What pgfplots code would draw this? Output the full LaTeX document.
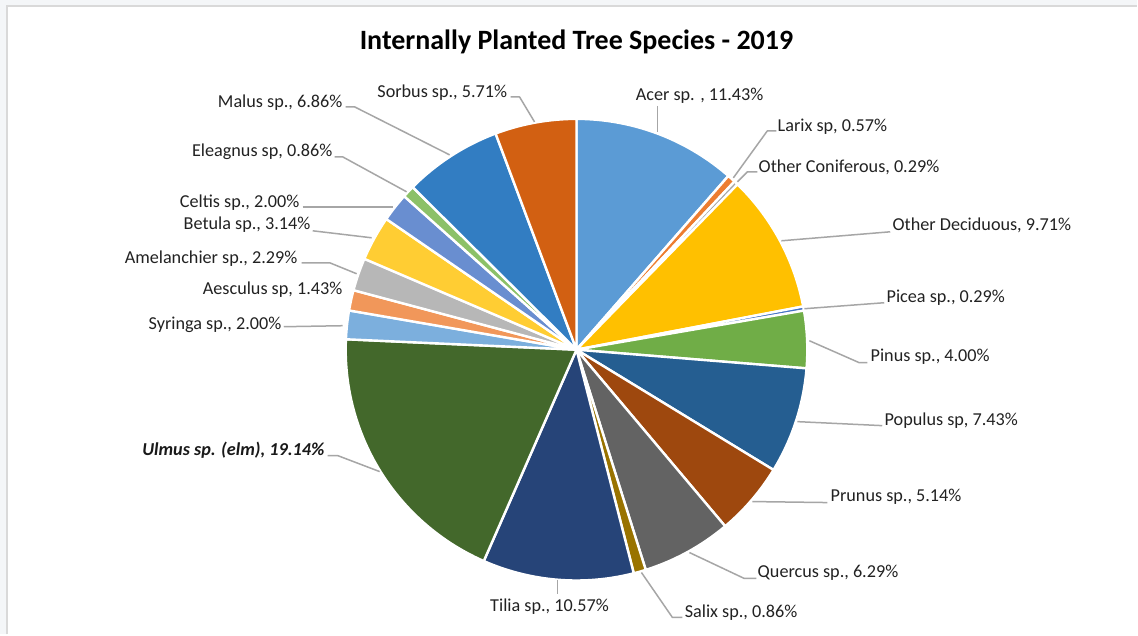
\documentclass[border=0pt]{standalone}
\usepackage{pgfplots}
\pgfplotsset{compat=1.18}
\usepackage{fontspec}
\setmainfont{Carlito}
\definecolor{cAcer}{HTML}{5B9BD5}
\definecolor{cLarix}{HTML}{ED7D31}
\definecolor{cOCon}{HTML}{A5A5A5}
\definecolor{cODec}{HTML}{FFC000}
\definecolor{cPicea}{HTML}{4472C4}
\definecolor{cPinus}{HTML}{70AD47}
\definecolor{cPopulus}{HTML}{255E91}
\definecolor{cPrunus}{HTML}{9E480E}
\definecolor{cQuercus}{HTML}{636363}
\definecolor{cSalix}{HTML}{997300}
\definecolor{cTilia}{HTML}{264478}
\definecolor{cUlmus}{HTML}{43682B}
\definecolor{cSyringa}{HTML}{7CAFDD}
\definecolor{cAesculus}{HTML}{F1975A}
\definecolor{cAmel}{HTML}{B7B7B7}
\definecolor{cBetula}{HTML}{FFCD33}
\definecolor{cCeltis}{HTML}{698ED0}
\definecolor{cEleag}{HTML}{8CC168}
\definecolor{cMalus}{HTML}{327DC2}
\definecolor{cSorbus}{HTML}{D26012}
\definecolor{lead}{HTML}{A6A6A6}
\definecolor{txt}{HTML}{222222}
\definecolor{frame}{HTML}{D9D9D9}
\definecolor{outside}{HTML}{F4F6F8}
\tikzset{lab/.style={font=\fontsize{9.1}{10}\selectfont, text=txt, inner sep=0pt}}
\begin{document}
\begin{tikzpicture}
\begin{axis}[
  x=0.5pt, y=0.5pt,
  xmin=0, xmax=1138, ymin=0, ymax=635,
  y dir=reverse,
  hide axis, clip=false,
  every axis plot/.append style={line join=round},
  slice/.style={fill=#1, draw=white, line width=1.2pt, samples=60, variable=\t, no marks},
  leader/.style={draw=lead, line width=0.75pt, no marks},
]
\fill[outside] (axis cs:0,0) rectangle (axis cs:1138,635);
\fill[white] (axis cs:7,6) rectangle (axis cs:1138,635);
\draw[frame, line width=1pt] (axis cs:7,635) -- (axis cs:7,6) -- (axis cs:1138,6);

% pie slices: domain in cumulative percent, clockwise from top
\addplot[slice=cAcer, domain=0:11.43]      ({577+231*sin(3.6*\t)},{350-231*cos(3.6*\t)}) -- (axis cs:577,350) -- cycle;
\addplot[slice=cLarix, domain=11.43:12.00] ({577+231*sin(3.6*\t)},{350-231*cos(3.6*\t)}) -- (axis cs:577,350) -- cycle;
\addplot[slice=cOCon, domain=12.00:12.29]  ({577+231*sin(3.6*\t)},{350-231*cos(3.6*\t)}) -- (axis cs:577,350) -- cycle;
\addplot[slice=cODec, domain=12.29:22.00]  ({577+231*sin(3.6*\t)},{350-231*cos(3.6*\t)}) -- (axis cs:577,350) -- cycle;
\addplot[slice=cPicea, domain=22.00:22.29] ({577+231*sin(3.6*\t)},{350-231*cos(3.6*\t)}) -- (axis cs:577,350) -- cycle;
\addplot[slice=cPinus, domain=22.29:26.29] ({577+231*sin(3.6*\t)},{350-231*cos(3.6*\t)}) -- (axis cs:577,350) -- cycle;
\addplot[slice=cPopulus, domain=26.29:33.72] ({577+231*sin(3.6*\t)},{350-231*cos(3.6*\t)}) -- (axis cs:577,350) -- cycle;
\addplot[slice=cPrunus, domain=33.72:38.86] ({577+231*sin(3.6*\t)},{350-231*cos(3.6*\t)}) -- (axis cs:577,350) -- cycle;
\addplot[slice=cQuercus, domain=38.86:45.15] ({577+231*sin(3.6*\t)},{350-231*cos(3.6*\t)}) -- (axis cs:577,350) -- cycle;
\addplot[slice=cSalix, domain=45.15:46.01] ({577+231*sin(3.6*\t)},{350-231*cos(3.6*\t)}) -- (axis cs:577,350) -- cycle;
\addplot[slice=cTilia, domain=46.01:56.58] ({577+231*sin(3.6*\t)},{350-231*cos(3.6*\t)}) -- (axis cs:577,350) -- cycle;
\addplot[slice=cUlmus, domain=56.58:75.72] ({577+231*sin(3.6*\t)},{350-231*cos(3.6*\t)}) -- (axis cs:577,350) -- cycle;
\addplot[slice=cSyringa, domain=75.72:77.72] ({577+231*sin(3.6*\t)},{350-231*cos(3.6*\t)}) -- (axis cs:577,350) -- cycle;
\addplot[slice=cAesculus, domain=77.72:79.15] ({577+231*sin(3.6*\t)},{350-231*cos(3.6*\t)}) -- (axis cs:577,350) -- cycle;
\addplot[slice=cAmel, domain=79.15:81.44] ({577+231*sin(3.6*\t)},{350-231*cos(3.6*\t)}) -- (axis cs:577,350) -- cycle;
\addplot[slice=cBetula, domain=81.44:84.58] ({577+231*sin(3.6*\t)},{350-231*cos(3.6*\t)}) -- (axis cs:577,350) -- cycle;
\addplot[slice=cCeltis, domain=84.58:86.58] ({577+231*sin(3.6*\t)},{350-231*cos(3.6*\t)}) -- (axis cs:577,350) -- cycle;
\addplot[slice=cEleag, domain=86.58:87.44] ({577+231*sin(3.6*\t)},{350-231*cos(3.6*\t)}) -- (axis cs:577,350) -- cycle;
\addplot[slice=cMalus, domain=87.44:94.30] ({577+231*sin(3.6*\t)},{350-231*cos(3.6*\t)}) -- (axis cs:577,350) -- cycle;
\addplot[slice=cSorbus, domain=94.30:100] ({577+231*sin(3.6*\t)},{350-231*cos(3.6*\t)}) -- (axis cs:577,350) -- cycle;

% leader lines
\addplot[leader] coordinates {(658,106) (658,132)};
\addplot[leader] coordinates {(777,131) (768,131) (734,178)};
\addplot[leader] coordinates {(758,172) (748,172) (738,182)};
\addplot[leader] coordinates {(891,232) (782,241)};
\addplot[leader] coordinates {(885,303) (805,309)};
\addplot[leader] coordinates {(810,341) (860,363) (868,363)};
\addplot[leader] coordinates {(798,422) (883,426)};
\addplot[leader] coordinates {(753,502) (828,503)};
\addplot[leader] coordinates {(690,553) (745,579) (757,579)};
\addplot[leader] coordinates {(642,573) (673,618) (683,618)};
\addplot[leader] coordinates {(558,581) (558,595)};
\addplot[leader] coordinates {(328,456) (338,456) (380,472)};
\addplot[leader] coordinates {(284,327) (343,326)};
\addplot[leader] coordinates {(302,263) (330,263) (357,274)};
\addplot[leader] coordinates {(313,231) (372,238)};
\addplot[leader] coordinates {(303,207) (393,207)};
\addplot[leader] coordinates {(335,157) (343,157) (407,192)};
\addplot[leader] coordinates {(346,107) (355,107) (450,155)};
\addplot[leader] coordinates {(511,97) (520,97) (535,122)};

% title
\node[font=\fontsize{14}{16}\selectfont\bfseries, text=black, inner sep=0pt] at (axis cs:577,42) {Internally Planted Tree Species - 2019};

% labels
\node[lab, anchor=west] at (axis cs:636,96) {Acer sp. , 11.43\%};
\node[lab, anchor=west] at (axis cs:778,127) {Larix sp, 0.57\%};
\node[lab, anchor=west] at (axis cs:759,167) {Other Coniferous, 0.29\%};
\node[lab, anchor=west] at (axis cs:893,226) {Other Deciduous, 9.71\%};
\node[lab, anchor=west] at (axis cs:887,298) {Picea sp., 0.29\%};
\node[lab, anchor=west] at (axis cs:871,357) {Pinus sp., 4.00\%};
\node[lab, anchor=west] at (axis cs:885,421) {Populus sp, 7.43\%};
\node[lab, anchor=west] at (axis cs:831,497) {Prunus sp., 5.14\%};
\node[lab, anchor=west] at (axis cs:758,573) {Quercus sp., 6.29\%};
\node[lab, anchor=west] at (axis cs:685,613) {Salix sp., 0.86\%};
\node[lab, anchor=center] at (axis cs:550,607) {Tilia sp., 10.57\%};
\node[lab, anchor=east, font=\fontsize{9.1}{10}\selectfont\bfseries\itshape, text=black!90] at (axis cs:325,451) {Ulmus sp. (elm), 19.14\%};
\node[lab, anchor=east] at (axis cs:282,325) {Syringa sp., 2.00\%};
\node[lab, anchor=east] at (axis cs:343,290) {Aesculus sp, 1.43\%};
\node[lab, anchor=east] at (axis cs:298,259) {Amelanchier sp., 2.29\%};
\node[lab, anchor=east] at (axis cs:311,225) {Betula sp., 3.14\%};
\node[lab, anchor=east] at (axis cs:300,203) {Celtis sp., 2.00\%};
\node[lab, anchor=east] at (axis cs:333,152) {Eleagnus sp, 0.86\%};
\node[lab, anchor=east] at (axis cs:343,103) {Malus sp., 6.86\%};
\node[lab, anchor=east] at (axis cs:508,93) {Sorbus sp., 5.71\%};
\end{axis}
\end{tikzpicture}
\end{document}
